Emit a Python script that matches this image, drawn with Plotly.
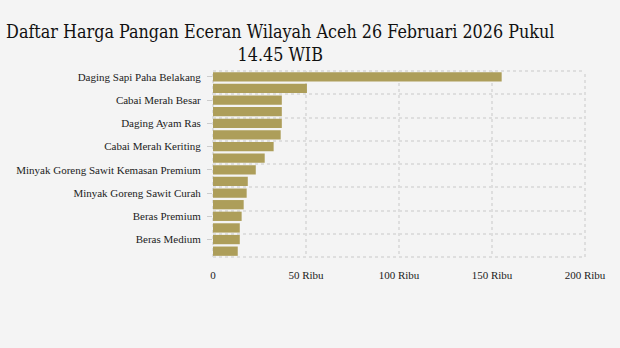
import plotly.graph_objects as go

# Data (top to bottom)
categories = [
    "Daging Sapi Paha Belakang",
    "Cabai Rawit Merah",
    "Cabai Merah Besar",
    "Bawang Merah",
    "Daging Ayam Ras",
    "Bawang Putih Honan",
    "Cabai Merah Keriting",
    "Telur Ayam Ras",
    "Minyak Goreng Sawit Kemasan Premium",
    "Gula Pasir Curah",
    "Minyak Goreng Sawit Curah",
    "Minyakita",
    "Beras Premium",
    "Kedelai Impor",
    "Beras Medium",
    "Tepung Terigu",
]
prices = [155200, 50500, 37000, 37000, 37000, 36400, 32600, 27800,
          23000, 18700, 18100, 16500, 15400, 14400, 14400, 13300]

x_tickvals = [0, 50000, 100000, 150000, 200000]
x_ticktext = ["0", "50 Ribu", "100 Ribu", "150 Ribu", "200 Ribu"]

title_text = "Daftar Harga Pangan Eceran Wilayah Aceh 26 Februari 2026 Pukul<br>14.45 WIB"

positions = list(range(len(categories)))
label_idx = positions[::2]
boundaries = [p - 0.5 for p in positions[::2]] + [positions[-1] + 0.5]

bg = "#f4f4f4"
grid = "#dedede"
gw = 2

fig = go.Figure(go.Bar(
    x=prices,
    y=positions,
    orientation="h",
    marker=dict(color="#ad9e5a", line=dict(width=0)),
    width=0.8,
    hovertext=categories,
))

# dotted frame at the plot-area edges (edge gridlines)
for (x0, y0, x1, y1) in [(0, 0, 1, 0), (0, 1, 1, 1), (0, 0, 0, 1), (1, 0, 1, 1)]:
    fig.add_shape(type="line", xref="paper", yref="paper",
                  x0=x0, y0=y0, x1=x1, y1=y1, layer="below",
                  line=dict(color=grid, width=gw, dash="dot"))

fig.update_layout(
    width=620, height=348,
    paper_bgcolor=bg, plot_bgcolor=bg,
    margin=dict(l=213, r=35, t=71, b=91),
    showlegend=False,
    title=dict(
        text=title_text,
        x=0.452, xanchor="center",
        y=0.89, yanchor="top",
        font=dict(family="DejaVu Serif Condensed, DejaVu Serif", size=17.8, color="#111"),
    ),
    font=dict(family="Liberation Serif, Times New Roman, serif", size=11, color="#222"),
)

fig.update_xaxes(
    range=[0, 200000],
    tickvals=x_tickvals, ticktext=x_ticktext,
    showgrid=True, gridcolor=grid, griddash="dot", gridwidth=gw,
    zeroline=False, showline=False,
    ticks="", ticklabelstandoff=10,
    tickfont=dict(size=11),
)

fig.update_yaxes(
    range=[positions[-1] + 0.5, -0.5],
    tickmode="array",
    tickvals=label_idx,
    ticktext=[categories[i] for i in label_idx],
    showgrid=False, automargin=False,
    zeroline=False, showline=False,
    ticks="outside", ticklen=5, tickcolor="#cccccc",
    ticklabelstandoff=4,
    tickfont=dict(size=11),
    minor=dict(
        tickmode="array", tickvals=boundaries,
        showgrid=True, gridcolor=grid, griddash="dot", gridwidth=gw,
        ticks="",
    ),
)

fig.write_html("out.html")
